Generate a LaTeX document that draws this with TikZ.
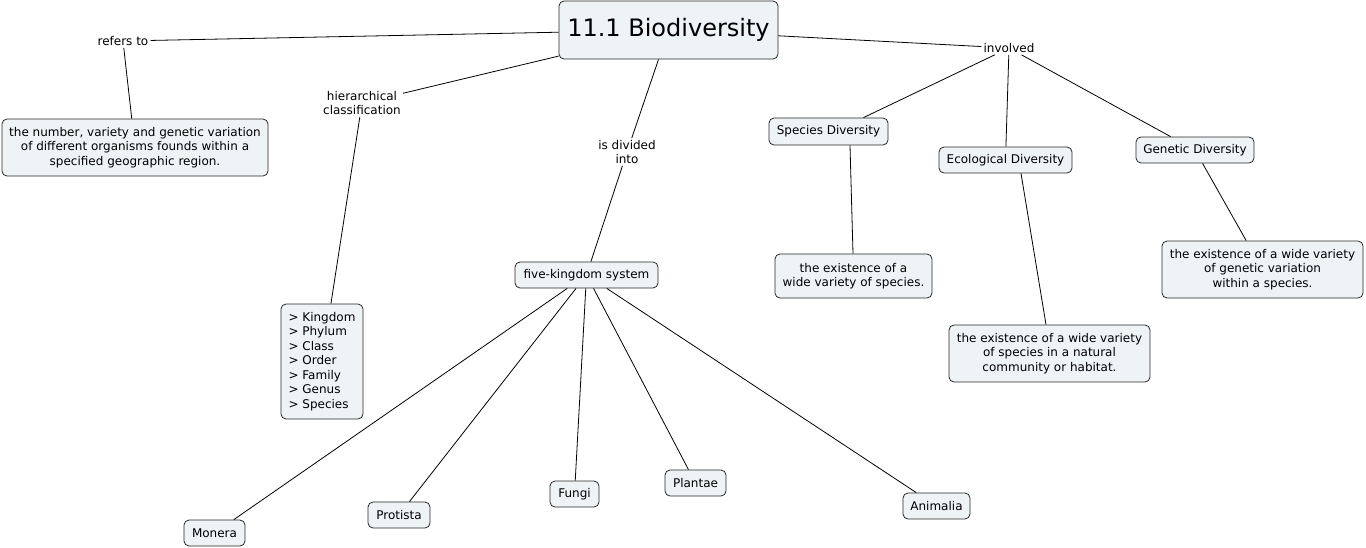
\documentclass[tikz,border=0pt]{standalone}
\usepackage{fontspec}
\setmainfont{DejaVu Sans}
\definecolor{boxfill}{RGB}{238,243,245}
\definecolor{boxline}{RGB}{40,40,40}
\begin{document}
\begin{tikzpicture}[x=1pt,y=-1pt,
  box/.style={draw=boxline,fill=boxfill,rounded corners=5pt,line width=0.8pt,
    inner sep=0pt,align=center,font=\fontsize{12}{14.5}\selectfont},
  lbl/.style={inner sep=2pt,align=center,font=\fontsize{12}{14}\selectfont},
  conn/.style={line width=0.8pt,draw=black}]
\useasboundingbox (0,0) rectangle (1366,547);
% concepts
\node[box,minimum width=219pt,minimum height=58pt,font=\fontsize{24}{28}\selectfont] (bio) at (668.5,30) {11.1 Biodiversity};
\node[box,minimum width=266pt,minimum height=57pt] (def) at (135,147.5) {the number, variety and genetic variation\\of different organisms founds within a\\specified geographic region.};
\node[box,minimum width=82pt,minimum height=115pt,align=left] (list) at (322,361.5) {> Kingdom\\> Phylum\\> Class\\> Order\\> Family\\> Genus\\> Species};
\node[box,minimum width=143pt,minimum height=26pt] (five) at (586.5,275) {five-kingdom system};
\node[box,minimum width=61pt,minimum height=26pt] (mon) at (214.5,533) {Monera};
\node[box,minimum width=62pt,minimum height=26pt] (pro) at (399,515) {Protista};
\node[box,minimum width=49pt,minimum height=26pt] (fun) at (574.5,494) {Fungi};
\node[box,minimum width=61pt,minimum height=26pt] (pla) at (695.5,483) {Plantae};
\node[box,minimum width=67pt,minimum height=26pt] (ani) at (936.5,506) {Animalia};
\node[box,minimum width=119pt,minimum height=27pt] (spd) at (828.5,131.5) {Species Diversity};
\node[box,minimum width=133pt,minimum height=26pt] (ecd) at (1005.5,160) {Ecological Diversity};
\node[box,minimum width=118pt,minimum height=26pt] (ged) at (1195,150) {Genetic Diversity};
\node[box,minimum width=157pt,minimum height=44pt] (spx) at (853.5,276) {the existence of a\\wide variety of species.};
\node[box,minimum width=201pt,minimum height=57pt] (ecx) at (1049.5,353.5) {the existence of a wide variety\\of species in a natural\\community or habitat.};
\node[box,minimum width=201pt,minimum height=57pt] (gex) at (1262.5,269.5) {the existence of a wide variety\\of genetic variation\\within a species.};
% linking phrases
\node[lbl] (ref) at (123,41) {refers to};
\node[lbl] (hier) at (362,103) {hierarchical\\classification};
\node[lbl] (div) at (627,152) {is divided\\into};
\node[lbl] (inv) at (1009,48) {involved};
% connectors
\draw[conn] (bio) -- (ref);
\draw[conn] (ref) -- (def);
\draw[conn] (bio) -- (hier);
\draw[conn] (hier) -- (list);
\draw[conn] (bio) -- (div);
\draw[conn] (div) -- (five);
\draw[conn] (bio) -- (inv);
\draw[conn] (inv) -- ([xshift=35pt]spd.north);
\draw[conn] (inv) -- (ecd);
\draw[conn] (inv) -- (ged);
\draw[conn] ([xshift=21.5pt]spd.south) -- ([xshift=-0.5pt]spx.north);
\draw[conn] ([xshift=15.5pt]ecd.south) -- ([xshift=-3.5pt]ecx.north);
\draw[conn] (ged) -- (gex);
\draw[conn] (five) -- (mon);
\draw[conn] (five) -- (pro);
\draw[conn] (five) -- (fun);
\draw[conn] (five) -- (pla);
\draw[conn] (five) -- (ani);
\end{tikzpicture}
\end{document}
